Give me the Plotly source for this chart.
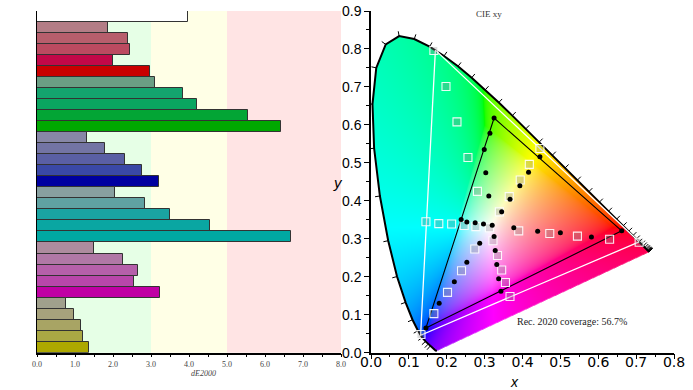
import base64
import struct
import zlib

import numpy as np
import plotly.graph_objects as go

# ---------------- data: dE2000 bar chart ----------------
categories = ["White",
              "Red 20%", "Red 40%", "Red 60%", "Red 80%", "Red 100%",
              "Green 20%", "Green 40%", "Green 60%", "Green 80%", "Green 100%",
              "Blue 20%", "Blue 40%", "Blue 60%", "Blue 80%", "Blue 100%",
              "Cyan 20%", "Cyan 40%", "Cyan 60%", "Cyan 80%", "Cyan 100%",
              "Magenta 20%", "Magenta 40%", "Magenta 60%", "Magenta 80%", "Magenta 100%",
              "Yellow 20%", "Yellow 40%", "Yellow 60%", "Yellow 80%", "Yellow 100%"]
de_values = [3.97,
             1.86, 2.39, 2.46, 2.00, 2.97,
             3.10, 3.83, 4.22, 5.54, 6.43,
             1.32, 1.79, 2.32, 2.77, 3.22,
             2.06, 2.83, 3.49, 4.54, 6.69,
             1.50, 2.25, 2.66, 2.54, 3.23,
             0.76, 0.97, 1.15, 1.20, 1.36]
bar_colors = ["#ffffff",
              "#b37d86", "#b75e6c", "#bb4a60", "#c20848", "#c90000",
              "#6a9e84", "#14a46e", "#0aa560", "#03a535", "#00a800",
              "#8787a6", "#7374a4", "#5a5fa4", "#3a48a6", "#0000a0",
              "#88a0a0", "#60a2a2", "#1aa4a2", "#0aa6a2", "#00a8a2",
              "#ad8c9e", "#b078a6", "#b560aa", "#b846aa", "#c000a4",
              "#a0a08c", "#a7a27c", "#a8a464", "#aaa844", "#ada800"]
band_edges = [0, 3, 5, 8]
band_colors = ["#e6ffe6", "#ffffe6", "#ffe4e4"]

# ---------------- data: CIE 1931 xy ----------------
locus_nm = list(range(380, 705, 5))
locus_x = [0.1741, 0.1740, 0.1738, 0.1736, 0.1733, 0.1730, 0.1726, 0.1721, 0.1714, 0.1703,
           0.1689, 0.1669, 0.1644, 0.1611, 0.1566, 0.1510, 0.1440, 0.1355, 0.1241, 0.1096,
           0.0913, 0.0687, 0.0454, 0.0235, 0.0082, 0.0039, 0.0139, 0.0389, 0.0743, 0.1142,
           0.1547, 0.1929, 0.2296, 0.2658, 0.3016, 0.3373, 0.3731, 0.4087, 0.4441, 0.4788,
           0.5125, 0.5448, 0.5752, 0.6029, 0.6270, 0.6482, 0.6658, 0.6801, 0.6915, 0.7006,
           0.7079, 0.7140, 0.7190, 0.7230, 0.7260, 0.7283, 0.7300, 0.7311, 0.7320, 0.7327,
           0.7334, 0.7340, 0.7344, 0.7346, 0.7347]
locus_y = [0.0050, 0.0050, 0.0049, 0.0049, 0.0048, 0.0048, 0.0048, 0.0048, 0.0051, 0.0058,
           0.0069, 0.0086, 0.0109, 0.0138, 0.0177, 0.0227, 0.0297, 0.0399, 0.0578, 0.0868,
           0.1327, 0.2007, 0.2950, 0.4127, 0.5384, 0.6548, 0.7502, 0.8120, 0.8338, 0.8262,
           0.8059, 0.7816, 0.7543, 0.7243, 0.6923, 0.6589, 0.6245, 0.5896, 0.5547, 0.5202,
           0.4866, 0.4544, 0.4242, 0.3965, 0.3725, 0.3514, 0.3340, 0.3197, 0.3083, 0.2993,
           0.2920, 0.2859, 0.2809, 0.2770, 0.2740, 0.2717, 0.2700, 0.2689, 0.2680, 0.2673,
           0.2666, 0.2660, 0.2656, 0.2654, 0.2653]

rec2020_x = [0.708, 0.170, 0.131]
rec2020_y = [0.292, 0.797, 0.046]
measured_gamut_x = [0.662, 0.325, 0.145]
measured_gamut_y = [0.321, 0.618, 0.065]

target_x = [0.3127,
            0.390, 0.472, 0.545, 0.630, 0.708,
            0.281, 0.256, 0.227, 0.198, 0.166,
            0.274, 0.239, 0.202, 0.166, 0.132,
            0.277, 0.246, 0.213, 0.179, 0.145,
            0.322, 0.334, 0.345, 0.355, 0.367,
            0.339, 0.365, 0.394, 0.418, 0.446]
target_y = [0.329,
            0.321, 0.314, 0.307, 0.299, 0.291,
            0.425, 0.514, 0.608, 0.701, 0.796,
            0.273, 0.216, 0.159, 0.103, 0.048,
            0.332, 0.335, 0.339, 0.340, 0.345,
            0.295, 0.256, 0.218, 0.185, 0.148,
            0.371, 0.411, 0.455, 0.496, 0.538]
measured_x = [0.320,
              0.377, 0.440, 0.500, 0.582, 0.662,
              0.311, 0.303, 0.299, 0.314, 0.325,
              0.287, 0.253, 0.220, 0.180, 0.145,
              0.297, 0.275, 0.253, 0.238,
              0.325, 0.328, 0.332, 0.337, 0.343,
              0.345, 0.367, 0.393, 0.416, 0.446]
measured_y = [0.336,
              0.329, 0.320, 0.316, 0.305, 0.321,
              0.413, 0.474, 0.535, 0.578, 0.618,
              0.288, 0.238, 0.187, 0.130, 0.065,
              0.339, 0.342, 0.344, 0.351,
              0.306, 0.269, 0.232, 0.195, 0.162,
              0.371, 0.404, 0.440, 0.475, 0.516]
coverage_text = "Rec. 2020 coverage: 56.7%"

# ---------------- chromaticity background image ----------------
XR, YR = 0.8, 0.9
W, H = 606, 684
xs = (np.arange(W) + 0.5) / W * XR
ys = YR - (np.arange(H) + 0.5) / H * YR
GX, GY = np.meshgrid(xs, ys)
px = np.array(locus_x + [locus_x[0]])
py = np.array(locus_y + [locus_y[0]])
inside = np.zeros(GX.shape, dtype=bool)
for i in range(len(px) - 1):
    x1, y1, x2, y2 = px[i], py[i], px[i + 1], py[i + 1]
    if y1 == y2:
        continue
    cond = ((y1 > GY) != (y2 > GY)) & (GX < (x2 - x1) * (GY - y1) / (y2 - y1) + x1)
    inside ^= cond
Yc = np.maximum(GY, 1e-6)
Xv = GX / Yc
Zv = (1 - GX - GY) / Yc
M = np.array([[3.2406, -1.5372, -0.4986],
              [-0.9689, 1.8758, 0.0415],
              [0.0557, -0.2040, 1.0570]])
lin = np.stack([M[i, 0] * Xv + M[i, 1] + M[i, 2] * Zv for i in range(3)], axis=-1)
# desaturate out-of-gamut colours by adding white
lin = lin - np.minimum(lin.min(axis=-1, keepdims=True), 0)
lin = lin / np.maximum(lin.max(axis=-1, keepdims=True), 1e-9)
srgb = np.where(lin <= 0.0031308, 12.92 * lin, 1.055 * np.power(lin, 1 / 2.4) - 0.055)
rgba = np.zeros((H, W, 4), dtype=np.uint8)
rgba[..., :3] = np.clip(srgb * 255, 0, 255).astype(np.uint8)
rgba[..., 3] = np.where(inside, 255, 0).astype(np.uint8)
rgba[~inside, :3] = 255


def png_bytes(arr):
    h, w, _ = arr.shape
    raw = b"".join(b"\x00" + arr[r].tobytes() for r in range(h))

    def chunk(tag, data):
        c = struct.pack(">I", len(data)) + tag + data
        return c + struct.pack(">I", zlib.crc32(tag + data) & 0xffffffff)

    return (b"\x89PNG\r\n\x1a\n" + chunk(b"IHDR", struct.pack(">IIBBBBB", w, h, 8, 6, 0, 0, 0))
            + chunk(b"IDAT", zlib.compress(raw, 9)) + chunk(b"IEND", b""))


img_uri = "data:image/png;base64," + base64.b64encode(png_bytes(rgba)).decode()

# wavelength tick marks along the locus
tick_nm = list(range(450, 695, 5))
tick_x, tick_y = [], []
lx, ly = np.array(locus_x), np.array(locus_y)
for nm in tick_nm:
    i = locus_nm.index(nm)
    dx = lx[i + 1] - lx[i - 1]
    dy = ly[i + 1] - ly[i - 1]
    n = np.hypot(dx, dy)
    ox, oy = -dy / n, dx / n
    tick_x += [lx[i], lx[i] + 0.013 * ox, None]
    tick_y += [ly[i], ly[i] + 0.013 * oy, None]

# ---------------- figure ----------------
FW, FH = 693, 390


def fx(p):
    return p / FW


def fy(p):
    return 1 - p / FH


fig = go.Figure()

fig.add_trace(go.Bar(x=de_values, y=categories, orientation="h",
                     marker=dict(color=bar_colors, line=dict(color="#333333", width=1)),
                     xaxis="x", yaxis="y", showlegend=False))

fig.add_trace(go.Scatter(x=locus_x, y=locus_y, mode="lines",
                         line=dict(color="black", width=2),
                         xaxis="x2", yaxis="y2", showlegend=False))
fig.add_trace(go.Scatter(x=tick_x, y=tick_y, mode="lines",
                         line=dict(color="black", width=1),
                         xaxis="x2", yaxis="y2", showlegend=False))
fig.add_trace(go.Scatter(x=rec2020_x + [rec2020_x[0]], y=rec2020_y + [rec2020_y[0]], mode="lines",
                         line=dict(color="white", width=1.3),
                         xaxis="x2", yaxis="y2", showlegend=False))
fig.add_trace(go.Scatter(x=measured_gamut_x + [measured_gamut_x[0]],
                         y=measured_gamut_y + [measured_gamut_y[0]], mode="lines",
                         line=dict(color="black", width=1.1),
                         xaxis="x2", yaxis="y2", showlegend=False))
fig.add_trace(go.Scatter(x=target_x, y=target_y, mode="markers",
                         marker=dict(symbol="square", size=8, color="rgba(140,140,140,0.3)",
                                     line=dict(color="rgba(255,255,255,0.9)", width=1.1)),
                         xaxis="x2", yaxis="y2", showlegend=False))
fig.add_trace(go.Scatter(x=measured_x, y=measured_y, mode="markers",
                         marker=dict(size=5, color="black"),
                         xaxis="x2", yaxis="y2", showlegend=False))

shapes = []
for i, c in enumerate(band_colors):
    shapes.append(dict(type="rect", xref="x", yref="y domain", x0=band_edges[i], x1=band_edges[i + 1],
                       y0=0, y1=1, fillcolor=c, line=dict(width=0), layer="below"))

serif = "Liberation Serif"
sans = "Liberation Sans"

ydom = [fy(352.7), fy(11)]

fig.update_layout(
    width=FW, height=FH,
    margin=dict(l=0, r=0, t=0, b=0, autoexpand=False),
    paper_bgcolor="white", plot_bgcolor="white",
    bargap=0,
    shapes=shapes,
    images=[dict(source=img_uri, xref="x2", yref="y2", x=0, y=YR, sizex=XR, sizey=YR,
                 sizing="stretch", xanchor="left", yanchor="top", layer="below")],
    xaxis=dict(domain=[fx(37), fx(341)], range=[0, 8], dtick=1, tickformat=".1f",
               automargin=False, ticklabeloverflow="allow",
               showgrid=False, zeroline=False, showline=True, linecolor="black", linewidth=1.5,
               ticks="outside", ticklen=3, tickcolor="black",
               minor=dict(dtick=0.5, ticks="outside", ticklen=3, tickcolor="black"),
               tickfont=dict(family=serif, size=8, color="#444444")),
    yaxis=dict(domain=ydom, range=[30.5, -0.5], type="category",
               automargin=False,
               showticklabels=False, ticks="", showgrid=False, zeroline=False,
               showline=True, linecolor="black", linewidth=1),
    xaxis2=dict(domain=[fx(371), fx(674)], range=[0, XR], dtick=0.1, tickformat=".1f",
                automargin=False, ticklabeloverflow="allow", ticklabelstandoff=-9,
                anchor="y2", showgrid=False, zeroline=False, showline=True, linecolor="black",
                linewidth=1.5, ticks="outside", ticklen=5, tickcolor="black",
                minor=dict(dtick=0.05, ticks="outside", ticklen=3, tickcolor="black"),
                tickfont=dict(family="DejaVu Sans", size=14, color="black")),
    yaxis2=dict(domain=ydom, range=[0, YR], dtick=0.1, tickformat=".1f",
                automargin=False, ticklabeloverflow="allow",
                anchor="x2", showgrid=False, zeroline=False, showline=True, linecolor="black",
                linewidth=1.5, ticks="outside", ticklen=5, tickcolor="black",
                minor=dict(dtick=0.05, ticks="outside", ticklen=3, tickcolor="black"),
                tickfont=dict(family=sans, size=14, color="black")),
    annotations=[
        dict(text="<i>dE2000</i>", xref="paper", yref="paper", x=fx(189), y=fy(380),
             showarrow=False, font=dict(family=serif, size=8, color="#444444")),
        dict(text="CIE xy", xref="x2", yref="y2", x=0.312, y=0.893, showarrow=False,
             font=dict(family=serif, size=9, color="#333333")),
        dict(text=coverage_text, xref="x2", yref="y2", x=0.531, y=0.081, showarrow=False,
             font=dict(family=serif, size=10, color="#222222")),
        dict(text="<i>y</i>", xref="paper", yref="paper", x=fx(337.7), y=fy(182.7),
             showarrow=False, font=dict(family=sans, size=15, color="black")),
        dict(text="<i>x</i>", xref="paper", yref="paper", x=fx(521), y=fy(382),
             yanchor="middle", showarrow=False, font=dict(family=sans, size=14, color="black")),
    ],
)

# remove the default page margin so the 693x390 figure fills the window exactly
fig.write_html("out.html", config={"displayModeBar": False},
               post_script="document.body.style.margin='0';document.body.style.overflow='hidden';")
